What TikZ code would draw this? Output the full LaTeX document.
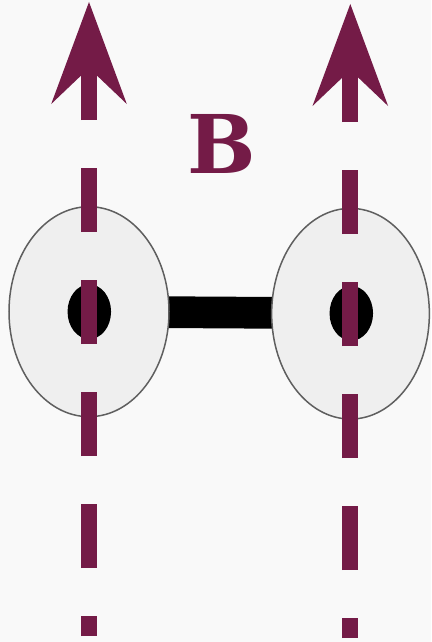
\documentclass[tikz,border=0pt]{standalone}
\usepackage{fontspec}
\newfontfamily\labelfont{DejaVu Serif}
\usetikzlibrary{shapes.geometric,arrows.meta}
\definecolor{fieldcol}{HTML}{741B47}
\definecolor{bgcol}{HTML}{F9F9F9}
\definecolor{atomfill}{HTML}{EFEFEF}
\definecolor{atomline}{HTML}{5F5F5F}
\pgfdeclarelayer{back}
\pgfsetlayers{back,main}
\tikzset{
  atom/.style={ellipse, draw=atomline, line width=1.5pt, fill=atomfill, inner sep=0pt},
  nucleus/.style={ellipse, fill=black, inner sep=0pt, minimum width=43.5pt, minimum height=54.7pt},
  bond/.style={line width=31.7pt, black},
  fieldline/.style={draw=fieldcol, line width=16pt, dash pattern=on 64pt off 48pt, dash phase=44pt,
    -{Stealth[length=102pt, width=75.6pt, inset=36pt, line width=0pt, fill=fieldcol]}},
  fieldlabel/.style={text=fieldcol, inner sep=0pt, font=\labelfont\bfseries\fontsize{81}{81}\selectfont}
}
\begin{document}
\begin{tikzpicture}[x=1pt, y=-1pt]
  \useasboundingbox (0,0) rectangle (431,642);
  \begin{pgfonlayer}{back}
    \fill[bgcol] (0,0) rectangle (431,642);
  \end{pgfonlayer}
  % the two atoms
  \node[atom, minimum width=160pt, minimum height=210pt] (la) at (89,311.7) {};
  \node[atom, minimum width=157.7pt, minimum height=210.7pt] (ra) at (350.5,313.7) {};
  \node[nucleus] (ln) at (89.3,311.7) {};
  \node[nucleus] (rn) at (351.3,313.3) {};
  % bond between the nuclei, behind the atoms
  \begin{pgfonlayer}{back}
    \draw[bond] (ln.center) -- (rn.center);
  \end{pgfonlayer}
  % magnetic field lines
  \coordinate (lb) at (89,636);
  \coordinate (lt) at (89,2);
  \coordinate (rb) at (350.3,638);
  \coordinate (rt) at (350.3,4);
  \draw[fieldline] (lb) -- (lt);
  \draw[fieldline] (rb) -- (rt);
  \node[fieldlabel] (B) at (221.7,143.7) {B};
\end{tikzpicture}
\end{document}
